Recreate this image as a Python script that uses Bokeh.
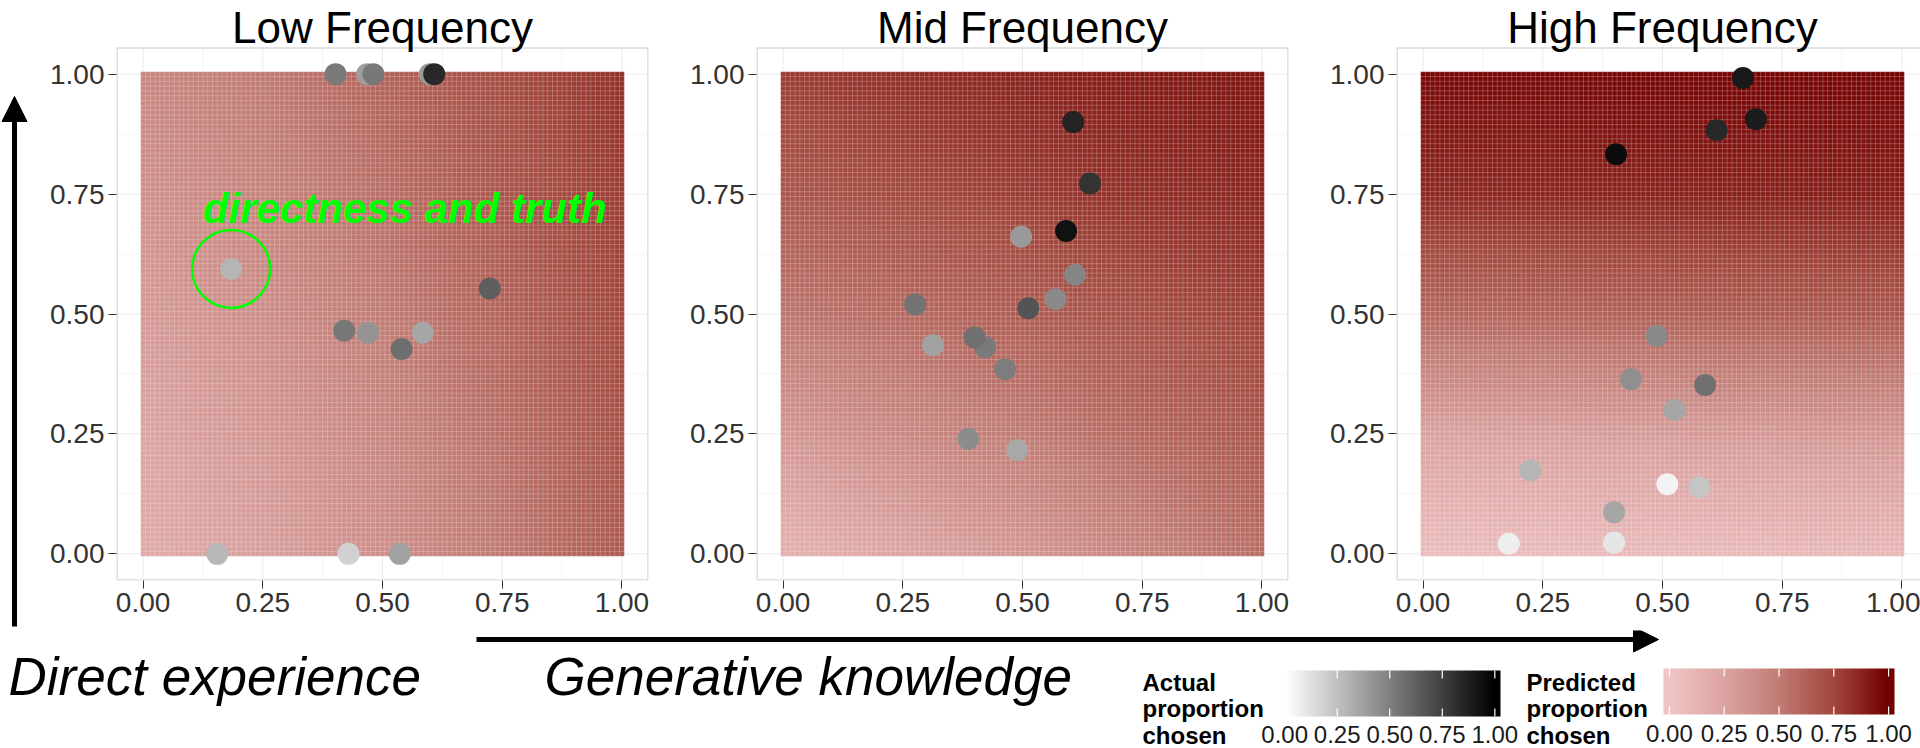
import numpy as np
from bokeh.plotting import figure
from bokeh.layouts import row, column
from bokeh.models import (Range1d, FixedTicker, NumeralTickFormatter, LinearColorMapper,
                          Arrow, NormalHead, ColumnDataSource)
from bokeh.transform import transform
from bokeh.core.properties import value
from bokeh.embed import file_html
from bokeh.resources import INLINE

FONT = "Liberation Sans"

# ---------------- data ----------------
panel_titles = ["Low Frequency", "Mid Frequency", "High Frequency"]
tick_values = [0.0, 0.25, 0.5, 0.75, 1.0]
minor_values = [0.125, 0.375, 0.625, 0.875]

# predicted proportion chosen, read on a coarse grid (rows: y = 0..1, cols: x = 0..1)
grid_axis = [0.0, 0.25, 0.5, 0.75, 1.0]
pred_low = [
    [0.20, 0.28, 0.38, 0.51, 0.66],
    [0.25, 0.33, 0.43, 0.56, 0.70],
    [0.31, 0.39, 0.50, 0.62, 0.75],
    [0.37, 0.45, 0.56, 0.68, 0.79],
    [0.43, 0.51, 0.62, 0.73, 0.83],
]
pred_mid = [
    [0.15, 0.24, 0.33, 0.45, 0.57],
    [0.33, 0.42, 0.50, 0.60, 0.68],
    [0.53, 0.59, 0.65, 0.72, 0.78],
    [0.68, 0.74, 0.79, 0.84, 0.87],
    [0.79, 0.84, 0.88, 0.91, 0.93],
]
pred_high = [
    [0.06, 0.07, 0.08, 0.09, 0.10],
    [0.26, 0.28, 0.30, 0.32, 0.34],
    [0.60, 0.62, 0.64, 0.66, 0.68],
    [0.86, 0.87, 0.88, 0.89, 0.90],
    [0.97, 0.97, 0.98, 0.98, 0.98],
]

# observed items: generative knowledge (x), direct experience (y), actual proportion chosen
low_x = [0.402, 0.468, 0.481, 0.599, 0.608, 0.184, 0.724, 0.420, 0.470, 0.540, 0.584, 0.155, 0.429, 0.536]
low_y = [1.0, 1.0, 1.0, 1.0, 1.0, 0.594, 0.553, 0.465, 0.461, 0.427, 0.461, 0.0, 0.0, 0.0]
low_actual = [0.52, 0.38, 0.53, 0.40, 0.84, 0.29, 0.63, 0.53, 0.42, 0.57, 0.35, 0.28, 0.18, 0.37]

mid_x = [0.606, 0.641, 0.497, 0.591, 0.610, 0.276, 0.512, 0.569, 0.313, 0.422, 0.400, 0.464, 0.387, 0.489]
mid_y = [0.900, 0.772, 0.661, 0.673, 0.582, 0.520, 0.512, 0.531, 0.435, 0.431, 0.451, 0.385, 0.240, 0.216]
mid_actual = [0.86, 0.80, 0.40, 0.93, 0.48, 0.55, 0.67, 0.46, 0.37, 0.52, 0.56, 0.51, 0.45, 0.34]

high_x = [0.668, 0.695, 0.613, 0.403, 0.488, 0.434, 0.589, 0.525, 0.224, 0.510, 0.577, 0.399, 0.179, 0.399]
high_y = [0.992, 0.906, 0.883, 0.833, 0.454, 0.364, 0.352, 0.300, 0.174, 0.145, 0.139, 0.087, 0.021, 0.023]
high_actual = [0.90, 0.89, 0.84, 0.95, 0.46, 0.44, 0.56, 0.35, 0.29, 0.05, 0.23, 0.35, 0.07, 0.10]

highlight_index = 5          # the "directness and truth" item in the low-frequency panel
highlight_label = "directness and truth"
actual_title = ["Actual", "proportion", "chosen"]
pred_title = ["Predicted", "proportion", "chosen"]
x_label = "Generative knowledge"
y_label = "Direct experience"

# ---------------- colour scales ----------------
def ramp(anchors, n=256):
    cols = np.array([[int(a[i:i + 2], 16) for i in (1, 3, 5)] for a in anchors], float)
    pos = np.linspace(0, 1, len(anchors))
    out = []
    for tt in np.linspace(0, 1, n):
        rgb = [np.interp(tt, pos, cols[:, k]) for k in range(3)]
        out.append("#%02x%02x%02x" % tuple(int(round(c)) for c in rgb))
    return out

red_palette = ramp(["#f0c4c4", "#dba3a1", "#c17c74", "#a2483e", "#720000"])
grey_palette = ramp(["#ffffff", "#000000"])
pred_mapper = LinearColorMapper(palette=red_palette, low=0, high=1)
grey_mapper = LinearColorMapper(palette=grey_palette, low=0, high=1)

tile_centers = np.round(np.arange(101) * 0.01, 2)
tile_edges = np.arange(102) * 0.01 - 0.005


def tile_grid(grid):
    g = np.asarray(grid, float)
    rows = np.array([np.interp(tile_centers, grid_axis, r) for r in g])
    return np.array([np.interp(tile_centers, grid_axis, rows[:, j]) for j in range(len(tile_centers))]).T


def mid_of(baseline, size):
    # texts are placed by the middle of their em box
    return baseline - 0.3465 * size

# ---------------- geometry ----------------
ROW_H = 630                 # title + panel + x axis
TITLE_PX = 47               # space above each panel for its title
BOTTOM_H = 748 - ROW_H
LO, HI = -0.0555, 1.0555
PX_X = 532 / (HI - LO)
PX_Y = 533 / (HI - LO)


def bare(width, height, x0, x1, y0, y1):
    p = figure(width=width, height=height, x_range=Range1d(x0, x1), y_range=Range1d(y0, y1),
               output_backend="svg", toolbar_location=None, x_axis_location=None, y_axis_location=None,
               min_border=0)
    p.min_border_left = p.min_border_right = p.min_border_top = p.min_border_bottom = 0
    p.outline_line_color = None
    p.grid.visible = False
    p.background_fill_color = "white"
    p.border_fill_color = "white"
    return p


def make_panel(title, grid, xs, ys, acts, width, left, right):
    frame_w = width - left - right
    x_end = LO + frame_w / PX_X
    y_top = HI + TITLE_PX / PX_Y
    p = figure(width=width, height=ROW_H, x_range=Range1d(LO, x_end), y_range=Range1d(LO, y_top),
               output_backend="svg", toolbar_location=None,
               min_border_left=left, min_border_right=right, min_border_top=0, min_border_bottom=50)
    p.background_fill_color = "white"
    p.border_fill_color = "white"
    p.outline_line_color = None
    p.grid.visible = False
    for ax in (p.xaxis[0], p.yaxis[0]):
        ax.ticker = FixedTicker(ticks=tick_values, minor_ticks=minor_values)
        ax.formatter = NumeralTickFormatter(format="0.00")
        ax.axis_line_color = None
        ax.major_tick_line_color = "#333333"
        ax.major_tick_out = 8
        ax.major_tick_in = 0
        ax.minor_tick_line_color = None
        ax.major_label_text_font = FONT
        ax.major_label_text_font_size = "28px"
        ax.major_label_text_color = "#333333"
        ax.major_label_standoff = 4

    # panel grid (ggplot theme_bw look), limited to the panel area
    p.segment(x0=minor_values, y0=LO, x1=minor_values, y1=HI, line_color="#f6f6f6", line_width=1)
    p.segment(x0=LO, y0=minor_values, x1=HI, y1=minor_values, line_color="#f6f6f6", line_width=1)
    p.segment(x0=tick_values, y0=LO, x1=tick_values, y1=HI, line_color="#ebebeb", line_width=1)
    p.segment(x0=LO, y0=tick_values, x1=HI, y1=tick_values, line_color="#ebebeb", line_width=1)

    p.image(image=[tile_grid(grid)], x=-0.005, y=-0.005, dw=1.01, dh=1.01, color_mapper=pred_mapper)
    p.segment(x0=tile_edges, y0=-0.005, x1=tile_edges, y1=1.005, line_color="white", line_alpha=0.22, line_width=1)
    p.segment(x0=-0.005, y0=tile_edges, x1=1.005, y1=tile_edges, line_color="white", line_alpha=0.22, line_width=1)

    # panel border
    inset_x, inset_y = 0.5 / PX_X, 0.5 / PX_Y
    p.quad(left=LO + inset_x, right=HI - inset_x, bottom=LO + inset_y, top=HI - inset_y,
           fill_color=None, line_color="#c4c4c4", line_width=1)

    src = ColumnDataSource(dict(x=xs, y=ys, a=acts))
    p.scatter("x", "y", source=src, size=22, fill_color=transform("a", grey_mapper), line_color=None)

    # panel title, centred over the panel
    p.text([0.5], [HI + (TITLE_PX - mid_of(42, 44)) / PX_Y], text=[title], text_font=value(FONT),
           text_font_size="44px", text_color="black", text_align="center", text_baseline="middle")
    return p


f1 = make_panel(panel_titles[0], pred_low, low_x, low_y, low_actual, 626, 88, 6)
f2 = make_panel(panel_titles[1], pred_mid, mid_x, mid_y, mid_actual, 640, 102, 6)
f3 = make_panel(panel_titles[2], pred_high, high_x, high_y, high_actual, 626, 102, 0)

# annotation on the low-frequency panel
hx, hy = low_x[highlight_index], low_y[highlight_index]
f1.scatter([hx], [hy], size=78, fill_color=None, line_color="#00ff00", line_width=2.5)
f1.text([0.125], [0.69 + 0.3465 * 42 / PX_Y], text=[highlight_label], text_font=value(FONT),
        text_font_style="bold italic", text_font_size="42px", text_color="#00ff00",
        text_baseline="middle", text_align="left")

# left strip with the vertical arrow (page coordinates)
left = bare(28, ROW_H, 0, 28, ROW_H, 0)
left.add_layout(Arrow(x_start=14, y_start=626, x_end=14, y_end=96, line_width=5, line_color="black",
                      end=NormalHead(size=25, fill_color="black", line_color="black")))

# bottom strip: horizontal arrow, axis captions, legends (page coordinates)
bottom = bare(1920, BOTTOM_H, 0, 1920, 748, ROW_H)
bottom.add_layout(Arrow(x_start=476, y_start=639, x_end=1658, y_end=639, line_width=5, line_color="black",
                        end=NormalHead(size=25, fill_color="black", line_color="black")))
bottom.text([8, 544], [mid_of(694, 53)] * 2, text=[y_label, x_label], text_font=value(FONT),
            text_font_style="italic", text_font_size="53px", text_color="black", text_baseline="middle")


def legend(title_lines, title_x, mapper, x0, x1, y_top, y_bot, label_base):
    bottom.text([title_x] * 3, [mid_of(b, 24) for b in (690, 716.5, 743)], text=title_lines,
                text_font=value(FONT), text_font_style="bold", text_font_size="24px", text_color="black",
                text_baseline="middle")
    unit = (x1 - x0) / 1.054
    z = x0 + 0.027 * unit
    ramp_vals = np.linspace(-0.027, 1.027, 256)[None, :]
    bottom.image(image=[ramp_vals], x=x0, y=y_top, dw=x1 - x0, dh=y_bot - y_top, color_mapper=mapper)
    tx = [z + t * unit for t in tick_values]
    bottom.segment(x0=tx, y0=y_top, x1=tx, y1=y_top + 8, line_color="white", line_width=1.2)
    bottom.segment(x0=tx, y0=y_bot - 8, x1=tx, y1=y_bot, line_color="white", line_width=1.2)
    bottom.text(tx, [mid_of(label_base, 24)] * 5, text=["%.2f" % t for t in tick_values], text_font=value(FONT),
                text_font_size="24px", text_color="#1a1a1a", text_align="center", text_baseline="middle")


legend(actual_title, 1142, grey_mapper, 1278.5, 1500, 670, 716, 742)
legend(pred_title, 1526, pred_mapper, 1663, 1894, 668, 714, 741)

layout = column(row(left, column(row(f1, f2, f3))), bottom)
open("out.html", "w").write(file_html(layout, INLINE))
